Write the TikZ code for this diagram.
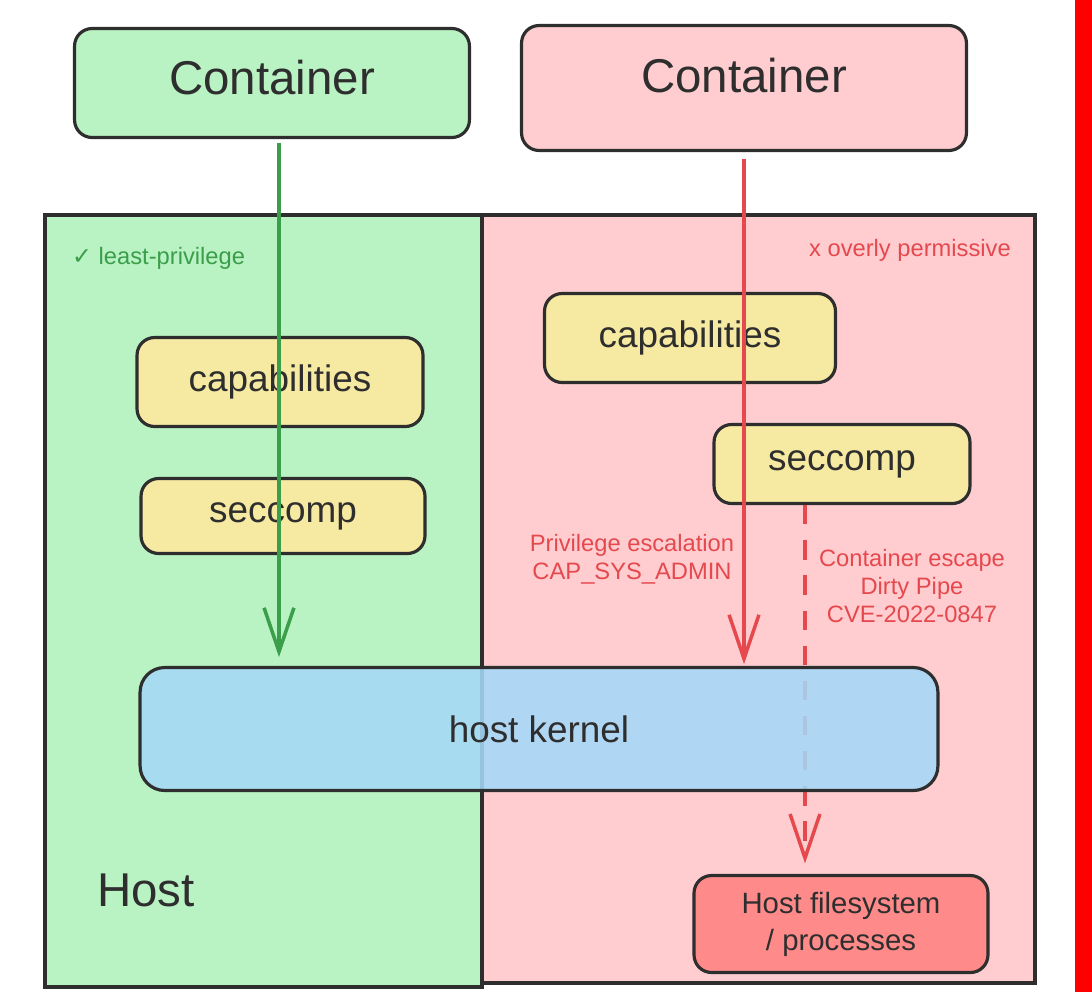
\documentclass[tikz,border=0pt]{standalone}
\usepackage{fontspec}
\setmainfont{Liberation Sans}
\newfontfamily\symfont{DejaVu Sans}
\usetikzlibrary{arrows.meta}

\definecolor{ink}{HTML}{2E2E2E}
\definecolor{mint}{HTML}{B9F2C3}
\definecolor{blush}{HTML}{FFCDD0}
\definecolor{straw}{HTML}{F6E9A1}
\definecolor{sky}{HTML}{A5D8F7}
\definecolor{coral}{HTML}{FF8A8A}
\definecolor{okgreen}{HTML}{3A9E4A}
\definecolor{badred}{HTML}{E5484D}

\pgfdeclarelayer{front}
\pgfsetlayers{main,front}

\tikzset{
  card/.style={draw=ink, line width=1.8pt, rounded corners=10pt, text=ink, align=center, inner sep=0pt},
  panel/.style={draw=ink, line width=1.8pt},
  bigtext/.style={font=\fontsize{27}{32}\selectfont},
  midtext/.style={font=\fontsize{21}{25}\selectfont},
  smalltext/.style={font=\fontsize{16.7}{21}\selectfont},
  tagtext/.style={font=\fontsize{13.5}{16}\selectfont},
  flow/.style={line width=2pt, -{Straight Barb[length=25pt, width=17pt, line width=2pt]}},
}

\begin{document}
\begin{tikzpicture}[x=0.02cm, y=-0.02cm]
    \useasboundingbox (0,0) rectangle (1092,992);

    % Host halves
    \draw[panel, fill=mint] (45,215) rectangle (482,987);
    \draw[panel, fill=blush] (482,215) rectangle (1035,983);
    \fill[red] (1075,0) rectangle (1092,992);

    % Containers
    \node[card, bigtext, fill=mint, text depth=7pt, minimum width=7.9cm, minimum height=2.18cm] (ctrok) at (272,83) {Container};
    \node[card, bigtext, fill=blush, text depth=14pt, minimum width=8.9cm, minimum height=2.5cm] (ctrbad) at (744,88) {Container};

    % Filters
    \node[card, midtext, fill=straw, minimum width=5.72cm, minimum height=1.78cm] (capok) at (280,382) {capabilities};
    \node[card, midtext, fill=straw, minimum width=5.68cm, minimum height=1.5cm] (secok) at (283,516) {seccomp};
    \node[card, midtext, fill=straw, minimum width=5.82cm, minimum height=1.78cm] (capbad) at (690,338) {capabilities};
    \node[card, midtext, fill=straw, minimum width=5.12cm, minimum height=1.58cm] (secbad) at (842,464) {seccomp};

    % Kernel sits on top, a bit see-through
    \begin{pgfonlayer}{front}
    \node[card, midtext, fill=sky, fill opacity=0.88, text opacity=1, rounded corners=14pt,
          minimum width=15.96cm, minimum height=2.46cm] (kern) at (539,729) {host kernel};
    \end{pgfonlayer}

    \node[card, smalltext, fill=coral, minimum width=5.88cm, minimum height=1.94cm] (hostfs) at (841,924)
        {Host filesystem\\/ processes};

    % Paths to the kernel
    \coordinate (okline) at (279,0);
    \coordinate (escline) at (805,0);
    \draw[flow, okgreen, shorten <=2pt, shorten >=5pt] (ctrok.south -| okline) -- (okline |- kern.north);
    \draw[flow, badred, shorten <=4pt, shorten >=1pt] (ctrbad.south) -- (ctrbad.south |- kern.north);
    \draw[flow, badred, dash pattern=on 11pt off 9pt, shorten >=6pt] (escline |- secbad.south) -- (escline |- hostfs.north);

    % Labels
    \node[tagtext, text=okgreen, anchor=west] (oktag) at (66,258) {{\symfont ✓} least-privilege};
    \node[tagtext, text=badred, anchor=east] (badtag) at (1017,250) {x overly permissive};
    \node[tagtext, text=badred, align=center] (privlbl) at (632,559) {Privilege escalation\\CAP\_SYS\_ADMIN};
    \node[tagtext, text=badred, align=center] (cvelbl) at (912,586) {Container escape\\Dirty Pipe\\CVE-2022-0847};
    \node[bigtext, text=ink, anchor=west, inner sep=0pt] (hostlbl) at (97,890) {Host};
\end{tikzpicture}
\end{document}
